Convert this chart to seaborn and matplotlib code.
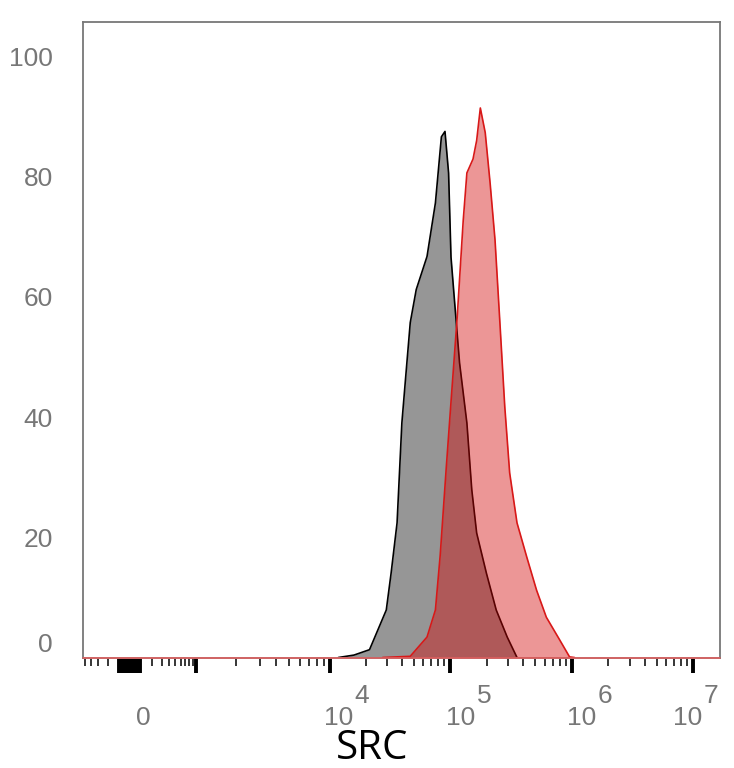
import numpy as np
import pandas as pd
import matplotlib
matplotlib.use("Agg")
import matplotlib.pyplot as plt
import seaborn as sns
from matplotlib.ticker import FixedLocator, NullFormatter

GRAY_LOG = [4.07, 4.20, 4.33, 4.47, 4.51, 4.56, 4.60, 4.63, 4.67, 4.72, 4.81, 4.88,
            4.93, 4.96, 4.99, 5.01, 5.04, 5.08, 5.14, 5.18, 5.22, 5.30, 5.38, 5.47, 5.55]
GRAY_PCT = [0, 0.4, 1.3, 7.9, 14, 22.4, 39, 46.2, 55.7, 61.2, 66.7, 75.6,
            86.6, 87.5, 80.6, 66.6, 59, 49, 39, 27.9, 20.7, 14, 7.9, 3.4, 0]

RED_LOG = [4.44, 4.67, 4.81, 4.88, 4.92, 4.97, 5.01, 5.06, 5.11, 5.14, 5.19, 5.22, 5.25,
           5.29, 5.33, 5.37, 5.41, 5.45, 5.49, 5.55, 5.63, 5.71, 5.79, 5.90, 5.98, 6.02]
RED_PCT = [0, 0.2, 3.4, 7.9, 17, 31.4, 42.5, 56.4, 72.7, 80.6, 82.9, 86, 91.4,
           87.3, 78.9, 69.5, 55.7, 41.7, 30.7, 22.4, 16.7, 11.2, 6.7, 2.9, 0.1, 0]

X_MAJOR = [0, 1e3, 1e4, 1e5, 1e6, 1e7]
X_LABEL_EXP = [4, 5, 6, 7]
Y_TICKS = [0, 20, 40, 60, 80, 100]
X_TITLE = "SRC"

GRAY = "#969696"
RED = "#d81818"
TEXT_GRAY = "#777777"

# ---- escala tipo biexponencial (FlowJo) ----
ANCH_X = np.array([-1e4, -1e3, -1e2, 0, 1e2, 1e3, 1e4, 1e5, 1e6, 1e7, 1e8])
ANCH_U = np.array([0.69, 1.81, 2.26, 2.35, 2.43, 2.89, 4.0, 4.99, 6.0, 7.0, 8.0])
W = 200.0
ANCH_V = np.arcsinh(ANCH_X / W) / np.log(10)


def fwd(x):
    v = np.arcsinh(np.asarray(x, dtype=float) / W) / np.log(10)
    return np.interp(v, ANCH_V, ANCH_U)


def inv(u):
    v = np.interp(np.asarray(u, dtype=float), ANCH_U, ANCH_V)
    return W * np.sinh(v * np.log(10))


sns.set_style("white")
plt.rcParams["font.family"] = ["Liberation Sans", "DejaVu Sans"]

gray_df = pd.DataFrame({"x": 10 ** np.array(GRAY_LOG), "y": GRAY_PCT})
red_df = pd.DataFrame({"x": 10 ** np.array(RED_LOG), "y": RED_PCT})

fig = plt.figure(figsize=(7.34, 7.68), dpi=100)
ax = fig.add_axes([83 / 734, 110.5 / 768, 637 / 734, 635.5 / 768])
ax.set_xscale("function", functions=(fwd, inv))

ax.fill_between(gray_df["x"], gray_df["y"], color=GRAY, lw=0, zorder=1)
sns.lineplot(data=gray_df, x="x", y="y", color="black", lw=1.2, sort=False,
             estimator=None, ax=ax, zorder=2)
ax.fill_between(red_df["x"], red_df["y"], color="#d40606", alpha=0.42, lw=0, zorder=3)
sns.lineplot(data=red_df, x="x", y="y", color=RED, lw=1.2, sort=False,
             estimator=None, ax=ax, zorder=4)
ax.axhline(0, color="#e06060", lw=1.2, zorder=5, clip_on=False)

ax.set_xlim(float(inv(1.959)), float(inv(7.223)))
ax.set_ylim(0, 105.7)

# ticks eje x (el bloque negro alrededor de 0 son ticks muy juntos)
near_zero = [s * m for m in range(1, 11) for s in (-10, 10)]
minors = [-m * 100 for m in range(2, 10)] + [m * 100 for m in range(2, 10)]
minors += [m * 10 ** k for k in range(3, 8) for m in range(2, 10)]
ax.xaxis.set_major_locator(FixedLocator(X_MAJOR + near_zero))
ax.xaxis.set_minor_locator(FixedLocator(minors))
ax.xaxis.set_major_formatter(NullFormatter())
ax.xaxis.set_minor_formatter(NullFormatter())
ax.tick_params(axis="x", which="major", bottom=True, length=10.8, width=2.8,
               color="black", direction="out")
ax.tick_params(axis="x", which="minor", bottom=True, length=5.8, width=1.1,
               color="black", direction="out")

# etiquetas del eje x: "0" y 10^k con exponente al mismo tamano
lab_kw = dict(xycoords=("data", "axes fraction"), textcoords="offset pixels",
              ha="center", va="baseline", fontsize=19, color=TEXT_GRAY)
ax.annotate("0", xy=(0, 0), xytext=(13, -67.5), **lab_kw)
base_dx = [9, 11, 10, -5]
for exp, dx in zip(X_LABEL_EXP, base_dx):
    ax.annotate("10", xy=(10.0 ** exp, 0), xytext=(dx, -67.5), **lab_kw)
    ax.annotate(str(exp), xy=(10.0 ** exp, 0), xytext=(dx + 23, -45.5), **lab_kw)

# eje y
ax.set_yticks(Y_TICKS)
ax.set_yticklabels([str(t) for t in Y_TICKS])
ax.tick_params(axis="y", length=0, pad=21.6, labelsize=19, labelcolor=TEXT_GRAY)
for lab in ax.get_yticklabels():
    if lab.get_text() == "0":
        lab.set_va("bottom")

ax.set_xlabel(X_TITLE, fontsize=29, family=["Open Sans", "DejaVu Sans"], color="black")
ax.xaxis.set_label_coords(0.4537, -0.1597)
ax.xaxis.label.set_va("baseline")
ax.set_ylabel("")

for sp in ax.spines.values():
    sp.set_visible(True)
    sp.set_color("#777777")
    sp.set_linewidth(1.3)

fig.savefig("out.png", dpi=100)
